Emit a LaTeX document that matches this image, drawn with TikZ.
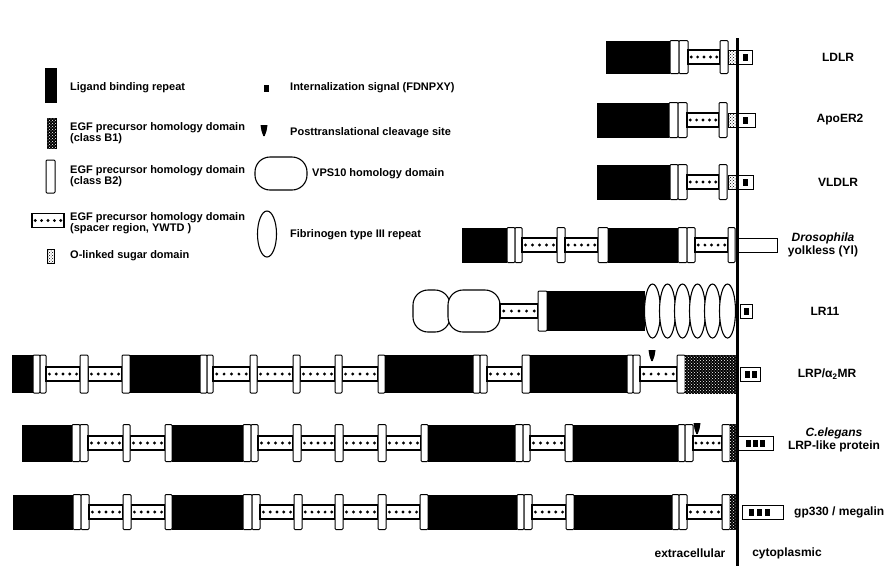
\documentclass[tikz,border=0pt]{standalone}
\usepackage{fontspec}
\setmainfont{Liberation Sans}
\usepackage{tikz}
\usetikzlibrary{patterns}
\tikzset{
  lbl/.style = {anchor=west, align=left, inner sep=0pt, font=\fontsize{11}{11}\selectfont\bfseries},
  rowlbl/.style = {align=center, inner sep=0pt, font=\fontsize{12}{13}\selectfont\bfseries},
  ligand/.style = {fill=black},
  egfbtwo/.style = {draw=black, fill=white, line width=1pt, rounded corners=1pt},
  egfbone/.style = {draw=black, fill=black, line width=1pt, postaction={pattern=crosshatch dots, pattern color=white}},
  spacer/.style = {draw=black, fill=white, line width=1.1pt},
  sugar/.style = {draw=black, fill=white, line width=0.8pt, postaction={pattern=crosshatch dots}},
  tail/.style = {draw=black, fill=white, line width=1pt},
  vps/.style = {draw=black, fill=white, line width=1.1pt, rounded corners=15pt},
  fibro/.style = {draw=black, fill=white, line width=1.1pt},
  membrane/.style = {draw=black, line width=3pt}
}
\newcommand{\rowc}{0}
\newcommand{\rowh}{17.5}
\newcommand{\lbr}[2]{\fill[ligand] (#1,\rowc-\rowh) rectangle (#2,\rowc+\rowh);}
\newcommand{\btwo}[2]{\draw[egfbtwo] (#1,\rowc-\rowh) rectangle (#2,\rowc+\rowh);}
\newcommand{\bone}[2]{\draw[egfbone] (#1,\rowc-\rowh) rectangle (#2,\rowc+\rowh);}
\newcommand{\ywtd}[2]{\draw[spacer] (#1,\rowc-7) rectangle (#2,\rowc+7);
  \foreach \k in {1,...,5} \fill ({#1+(#2-#1)*(\k-0.5)/5},\rowc) circle (1.6pt);}
\newcommand{\osug}[2]{\draw[sugar] (#1,\rowc-7) rectangle (#2,\rowc+7);}
\newcommand{\ctail}[2]{\draw[tail] (#1,\rowc-7) rectangle (#2,\rowc+7);}
\newcommand{\nps}[1]{\fill (#1-2.5,\rowc-3.5) rectangle (#1+2.5,\rowc+3.5);}
\newcommand{\cleave}[2]{\fill (#1-3.5,#2) -- (#1+3.5,#2) -- (#1+2.5,#2+6) -- (#1+0.7,#2+11) -- (#1-0.7,#2+11) -- (#1-2.5,#2+6) -- cycle;}

\begin{document}
\begin{tikzpicture}[x=1pt, y=-1pt]
    \useasboundingbox (0,0) rectangle (884,566);
    % legend
    \def\rowc{85.5}\def\rowh{17.5} \lbr{45}{57}
    \def\rowc{133}\def\rowh{15} \bone{47}{56}
    \def\rowc{176.5}\def\rowh{16.5} \btwo{46}{55}
    \def\rowc{220.5} \ywtd{32}{64}
    \def\rowc{256} \osug{47}{54}
    \def\rowc{88} \nps{266}
    \cleave{264}{125}
    \draw[vps] (255,157) rectangle (307,190);
    \draw[fibro] (267,234) ellipse [x radius=9.5pt, y radius=23pt];
    \node[lbl] (lig) at (70,88) {Ligand binding repeat};
    \node[lbl] (egf1) at (70,133) {EGF precursor homology domain\\(class B1)};
    \node[lbl] (egf2) at (70,176) {EGF precursor homology domain\\(class B2)};
    \node[lbl] (egf3) at (70,223) {EGF precursor homology domain\\(spacer region, YWTD )};
    \node[lbl] (osug) at (70,256) {O-linked sugar domain};
    \node[lbl] (intsig) at (290,88) {Internalization signal (FDNPXY)};
    \node[lbl] (clv) at (290,133) {Posttranslational cleavage site};
    \node[lbl] (vps) at (312,174) {VPS10 homology domain};
    \node[lbl] (fib) at (290,235) {Fibrinogen type III repeat};

    % LDLR
    \def\rowc{57}\def\rowh{16.5}
    \lbr{606}{670} \btwo{670}{679} \btwo{679}{688} \ywtd{688}{720} \btwo{720}{728}
    \osug{728}{737} \ctail{737}{752} \nps{745}
    % ApoER2
    \def\rowc{120}\def\rowh{17.5}
    \lbr{597}{669} \btwo{669}{678} \btwo{678}{687} \ywtd{687}{719} \btwo{719}{727}
    \osug{728}{737} \ctail{737}{755} \nps{745}
    % VLDLR
    \def\rowc{182}
    \lbr{597}{670} \btwo{670}{678} \btwo{678}{687} \ywtd{687}{719} \btwo{719}{727}
    \osug{728}{737} \ctail{737}{753} \nps{745}
    % yolkless
    \def\rowc{245}
    \lbr{462}{507} \btwo{507}{515} \btwo{515}{522}
    \ywtd{522}{557} \btwo{557}{565} \ywtd{565}{598} \btwo{598}{608}
    \lbr{608}{678} \btwo{678}{687} \btwo{687}{695} \ywtd{695}{728} \btwo{728}{735}
    \ctail{737}{777}
    % LR11
    \def\rowc{311}\def\rowh{20}
    \draw[vps] (413,290) rectangle (450,332);
    \draw[vps] (448,290) rectangle (500,332);
    \ywtd{500}{538} \btwo{538}{547} \lbr{547}{645}
    \foreach \i in {0,...,5}
        \draw[fibro] ({652.5+15*\i},\rowc) ellipse [x radius=8pt, y radius=27pt];
    \ctail{740}{752} \nps{746}
    % LRP
    \def\rowc{374}\def\rowh{19}
    \lbr{12}{33} \btwo{33}{40} \btwo{40}{46}
    \foreach \a/\b in {46/80,88/122} \ywtd{\a}{\b};
    \btwo{80}{88} \btwo{122}{130}
    \lbr{130}{200} \btwo{200}{207} \btwo{207}{213}
    \foreach \a/\b in {213/250,257/293,300/335,342/378} \ywtd{\a}{\b};
    \foreach \a/\b in {250/257,293/300,335/342,378/385} \btwo{\a}{\b};
    \lbr{385}{473} \btwo{473}{480} \btwo{480}{487} \ywtd{487}{522} \btwo{522}{530}
    \lbr{530}{627} \btwo{627}{633} \btwo{633}{640} \ywtd{640}{677} \btwo{677}{685}
    \bone{685}{737} \ctail{740}{760} \nps{747} \nps{754}
    \cleave{652}{350}
    % C. elegans
    \def\rowc{443}\def\rowh{18.5}
    \lbr{22}{72} \btwo{72}{80} \btwo{80}{88}
    \foreach \a/\b in {88/123,130/165} \ywtd{\a}{\b};
    \btwo{123}{130} \btwo{165}{172}
    \lbr{172}{243} \btwo{243}{251} \btwo{251}{258}
    \foreach \a/\b in {258/293,301/335,343/378,386/421} \ywtd{\a}{\b};
    \foreach \a/\b in {293/301,335/343,378/386,421/428} \btwo{\a}{\b};
    \lbr{428}{515} \btwo{515}{523} \btwo{523}{530} \ywtd{530}{565} \btwo{565}{573}
    \lbr{573}{678} \btwo{678}{685} \btwo{685}{693} \ywtd{693}{722} \btwo{722}{730}
    \bone{730}{737} \ctail{738}{773} \nps{748} \nps{755} \nps{762}
    \cleave{697}{423}
    % gp330
    \def\rowc{512}\def\rowh{17.5}
    \lbr{13}{73} \btwo{73}{81} \btwo{81}{89}
    \foreach \a/\b in {89/123,131/165} \ywtd{\a}{\b};
    \btwo{123}{131} \btwo{165}{172}
    \lbr{172}{243} \btwo{243}{252} \btwo{252}{260}
    \foreach \a/\b in {260/294,302/335,343/378,386/420} \ywtd{\a}{\b};
    \foreach \a/\b in {294/302,335/343,378/386,420/428} \btwo{\a}{\b};
    \lbr{428}{517} \btwo{517}{524} \btwo{524}{532} \ywtd{532}{566} \btwo{566}{574}
    \lbr{574}{672} \btwo{672}{679} \btwo{679}{687} \ywtd{687}{722} \btwo{722}{730}
    \bone{730}{737} \ctail{742}{783} \nps{751} \nps{759} \nps{767}

    % membrane
    \coordinate (mtop) at (737,38);
    \coordinate (mbot) at (737,566);
    \draw[membrane] (mtop) -- (mbot);

    \node[rowlbl] (ldlr) at (838,57) {LDLR};
    \node[rowlbl] (apoer) at (840,120) {ApoER2};
    \node[rowlbl] (vldlr) at (838,182) {VLDLR};
    \node[rowlbl] (yl) at (823,245) {\textit{Drosophila}\\yolkless (Yl)};
    \node[rowlbl] (lr11) at (825,311) {LR11};
    \node[rowlbl] (lrp) at (827,374) {LRP/α\textsubscript{2}MR};
    \node[rowlbl] (cel) at (834,440) {\textit{C.elegans}\\LRP-like protein};
    \node[rowlbl, anchor=west] (meg) at (794,512) {gp330 / megalin};
    \node[rowlbl] (extra) at (690,553) {extracellular};
    \node[rowlbl] (cyto) at (787,553) {cytoplasmic};
\end{tikzpicture}
\end{document}
